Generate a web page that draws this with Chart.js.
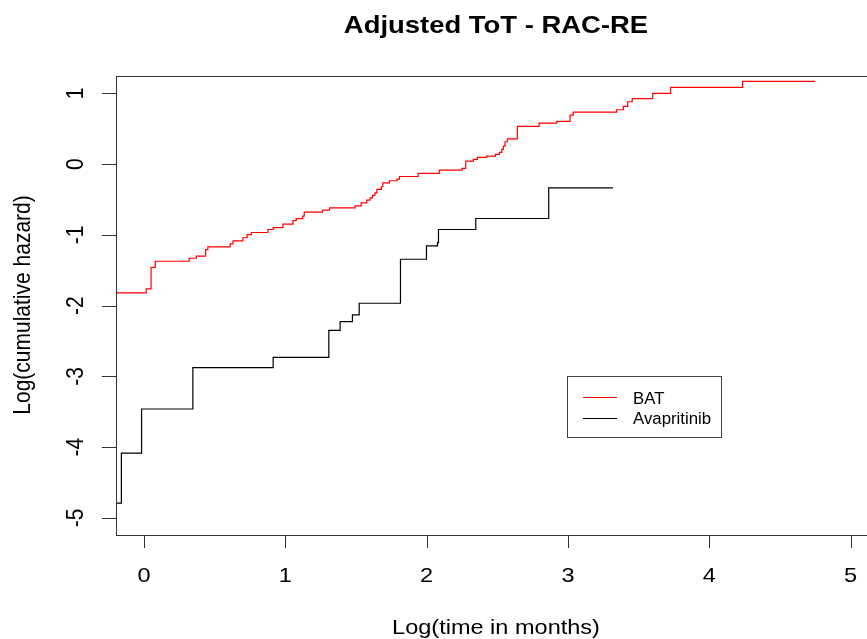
<!DOCTYPE html>
<html>
<head>
<meta charset="utf-8">
<script src="https://cdn.jsdelivr.net/npm/chart.js@4"></script>
<style>
  html, body { margin:0; padding:0; background:#fff; overflow:hidden; }
  #c { display:block; }
</style>
</head>
<body>
<canvas id="c" width="890" height="639"></canvas>
<script>
// tick values
const xTicks = [0, 1, 2, 3, 4, 5];
const yTicks = [-5, -4, -3, -2, -1, 0, 1];

// BAT: log(time) / log(cumulative hazard) at each step
const batTime = [-0.198, 0.016, 0.05, 0.08, 0.32, 0.37, 0.436, 0.452, 0.61, 0.63,
  0.70, 0.73, 0.76, 0.877, 0.914, 0.983, 1.054, 1.077, 1.124, 1.134,
  1.263, 1.313, 1.494, 1.537, 1.577, 1.60, 1.617, 1.634, 1.648, 1.68,
  1.69, 1.737, 1.79, 1.808, 1.94, 2.09, 2.251, 2.277, 2.331, 2.359,
  2.426, 2.487, 2.515, 2.532, 2.543, 2.555, 2.571, 2.642, 2.796, 2.921,
  3.015, 3.038, 3.345, 3.392, 3.423, 3.455, 3.6, 3.727, 4.236, 4.75];
const batHaz = [-1.82, -1.764, -1.46, -1.372, -1.33, -1.30, -1.207, -1.17, -1.127, -1.085,
  -1.04, -0.995, -0.966, -0.924, -0.896, -0.849, -0.797, -0.769, -0.736, -0.679,
  -0.651, -0.618, -0.59, -0.547, -0.509, -0.476, -0.443, -0.405, -0.358, -0.32,
  -0.264, -0.235, -0.212, -0.175, -0.132, -0.085, -0.061, 0.042, 0.066, 0.094,
  0.113, 0.137, 0.166, 0.208, 0.255, 0.316, 0.358, 0.533, 0.58, 0.604,
  0.693, 0.735, 0.768, 0.816, 0.881, 0.924, 1.0, 1.085, 1.17, 1.17];

// Avapritinib
const avaTime = [-0.195, -0.16, -0.017, 0.346, 0.914, 1.308, 1.388, 1.475, 1.523, 1.815,
  1.999, 2.077, 2.084, 2.348, 2.864, 3.319];
const avaHaz = [-4.79, -4.083, -3.46, -2.876, -2.73, -2.348, -2.225, -2.13, -1.966, -1.344,
  -1.155, -1.108, -0.924, -0.768, -0.335, -0.335];

const seriesNames = ['BAT', 'Avapritinib'];
const seriesColors = ['#ff0000', '#000000'];

const SX = 1.12;   // horizontal stretch seen in the reference text
const FONT = '"Liberation Sans", Arial, sans-serif';

function pts(xs, ys) { return xs.map((x, i) => ({ x: x, y: ys[i] })); }

function txt(ctx, s, x, y, font, align, base, rot, sx) {
  ctx.save();
  ctx.translate(x, y);
  ctx.scale(sx || SX, 1);
  if (rot) ctx.rotate(rot);
  ctx.font = font;
  ctx.textAlign = align;
  ctx.textBaseline = base;
  ctx.fillStyle = '#000';
  ctx.fillText(s, 0, 0);
  ctx.restore();
}

const rPlot = {
  id: 'rPlot',
  afterDraw(chart) {
    const ctx = chart.ctx, a = chart.chartArea;
    const xs = chart.scales.x, ys = chart.scales.y;
    ctx.save();
    ctx.strokeStyle = '#333';
    ctx.lineWidth = 1;
    ctx.strokeRect(Math.round(a.left) + 0.5, Math.round(a.top) + 0.5,
      Math.round(a.right - a.left), Math.round(a.bottom - a.top));

    // x axis
    ctx.beginPath();
    xTicks.forEach(v => {
      const px = Math.round(xs.getPixelForValue(v)) + 0.5;
      ctx.moveTo(px, a.bottom); ctx.lineTo(px, a.bottom + 13);
    });
    // y axis
    yTicks.forEach(v => {
      const py = Math.round(ys.getPixelForValue(v)) + 0.5;
      ctx.moveTo(a.left, py); ctx.lineTo(a.left - 14, py);
    });
    ctx.stroke();

    xTicks.forEach(v => txt(ctx, String(v), xs.getPixelForValue(v), 582,
      '21px ' + FONT, 'center', 'alphabetic'));
    yTicks.forEach(v => txt(ctx, String(v), 83, ys.getPixelForValue(v),
      '21px ' + FONT, 'center', 'alphabetic', -Math.PI / 2));

    txt(ctx, 'Log(time in months)', 496, 634, '21px ' + FONT, 'center', 'alphabetic');
    txt(ctx, 'Log(cumulative hazard)', 30, 305, '21px ' + FONT, 'center', 'alphabetic', -Math.PI / 2);
    txt(ctx, 'Adjusted ToT - RAC-RE', 496, 33, 'bold 24.5px ' + FONT, 'center', 'alphabetic');

    // legend
    ctx.strokeStyle = '#444';
    ctx.strokeRect(567.5, 376.5, 154, 61);
    chart.data.datasets.forEach((ds, i) => {
      const ly = 397 + i * 20.5;
      ctx.strokeStyle = ds.borderColor;
      ctx.beginPath();
      ctx.moveTo(583, Math.round(ly) + 0.5); ctx.lineTo(617, Math.round(ly) + 0.5);
      ctx.stroke();
      txt(ctx, ds.label, 633, ly + 6.5, '16px ' + FONT, 'left', 'alphabetic', 0, 1.05);
    });
    ctx.restore();
  }
};

new Chart(document.getElementById('c'), {
  type: 'scatter',
  data: {
    datasets: [
      { label: seriesNames[0], data: pts(batTime, batHaz), borderColor: seriesColors[0] },
      { label: seriesNames[1], data: pts(avaTime, avaHaz), borderColor: seriesColors[1] }
    ].map(d => Object.assign(d, { showLine: true, stepped: true, pointRadius: 0,
      borderWidth: 1.2, fill: false }))
  },
  options: {
    responsive: false,
    animation: false,
    devicePixelRatio: 1,
    layout: { padding: { left: 116, top: 76, right: 14, bottom: 104 } },
    plugins: { legend: { display: false }, title: { display: false }, tooltip: { enabled: false } },
    scales: {
      x: { type: 'linear', min: -0.198, max: 5.18, display: false },
      y: { type: 'linear', min: -5.24, max: 1.245, display: false }
    }
  },
  plugins: [rPlot]
});
</script>
</body>
</html>
